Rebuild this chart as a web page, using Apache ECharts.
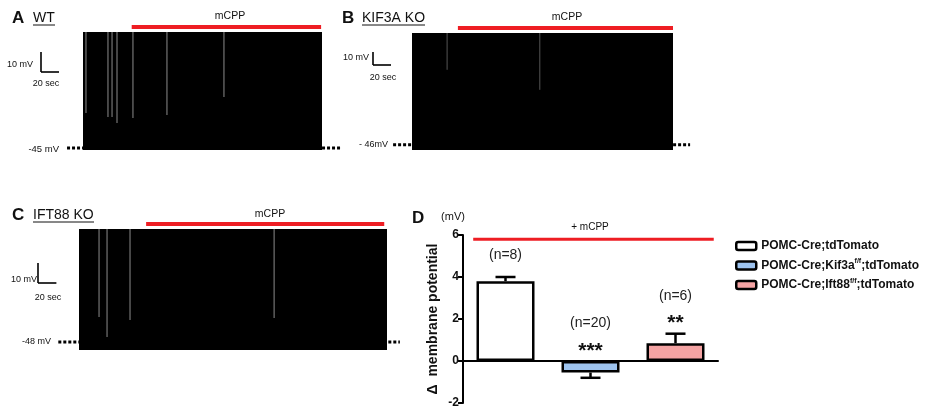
<!DOCTYPE html>
<html><head><meta charset="utf-8">
<script src="https://cdn.jsdelivr.net/npm/echarts@6/dist/echarts.min.js"></script>
<style>html,body{margin:0;padding:0;background:#fff}#c{width:935px;height:414px}</style>
</head><body><div id="c"></div>
<script>
// ---------------- DATA ----------------
// Panel A (WT) – envelope of the spiking recording
const traceA_time = [0, 265];          // s
const traceA_mV = [-46, 13];           // mV (bottom, top of spike envelope)
const baselineA = -45;                 // mV
const baselineA_span = [-17.7, 285];   // s
const mcppA = [54, 264];               // s, drug application
const grayA_t = [3.3, 27.7, 32.2, 37.7, 55.4, 93.1, 156.3];
const grayA_low = [-27.5, -29.5, -29.5, -32.5, -30, -28.5, -19.5];

// Panel B (KIF3A KO)
const traceB_time = [0, 290];
const traceB_mV = [-50, 40];
const baselineB = -46;
const baselineB_span = [-21, 309];
const mcppB = [51, 290];
const grayB_t = [39, 142];
const grayB_low = [11.7, -3.7];

// Panel C (IFT88 KO)
const traceC_time = [0, 335];
const traceC_mV = [-52, 8.5];
const baselineC = -48;
const baselineC_span = [-22.5, 349];
const mcppC = [73, 332];
const grayC_t = [21.8, 30.5, 55.5, 212.2];
const grayC_low = [-35.5, -45.5, -37, -36];

const scaleBar = [20, 10];             // 20 sec, 10 mV

// Panel D
const groups = ['POMC-Cre;tdTomato', 'POMC-Cre;Kif3a^f/f;tdTomato', 'POMC-Cre;Ift88^f/f;tdTomato'];
const meanD = [3.8, -0.55, 0.85];
const semD = [0.2, 0.25, 0.45];
const nD = [8, 20, 6];
const starsD = ['', '***', '**'];
const mcppLevelD = 5.8;
const mcppSpanD = [0.12, 2.95];        // in category units
const yRangeD = [-2, 6];

// ---------------- CHART ----------------
const RED = '#ee1d23';
const BAR_COLORS = ['#ffffff', '#9dc3ef', '#f4a3a3'];
const chart = echarts.init(document.getElementById('c'), null, {renderer: 'canvas'});

const traces = [
  {t: traceA_time, v: traceA_mV, base: baselineA, span: baselineA_span, mcpp: mcppA, gt: grayA_t, gl: grayA_low,
   grid: {left: 83, top: 32, width: 239, height: 118}, sb: [41, 72], gray: '#8c8c8c'},
  {t: traceB_time, v: traceB_mV, base: baselineB, span: baselineB_span, mcpp: mcppB, gt: grayB_t, gl: grayB_low,
   grid: {left: 412, top: 33, width: 261, height: 117}, sb: [373, 65], gray: '#555'},
  {t: traceC_time, v: traceC_mV, base: baselineC, span: baselineC_span, mcpp: mcppC, gt: grayC_t, gl: grayC_low,
   grid: {left: 79, top: 229, width: 308, height: 121}, sb: [38, 283], gray: '#8c8c8c'}
];

const grids = [], xAxes = [], yAxes = [], series = [];
traces.forEach((tr, i) => {
  grids.push(tr.grid);
  xAxes.push({type: 'value', gridIndex: i, min: tr.t[0], max: tr.t[1], show: false});
  yAxes.push({type: 'value', gridIndex: i, min: tr.v[0], max: tr.v[1], show: false});
  // dotted baseline
  series.push({type: 'custom', xAxisIndex: i, yAxisIndex: i, z: 1, silent: true,
    data: [[tr.span[0], tr.span[1], tr.base]],
    renderItem: (p, api) => {
      const a = api.coord([api.value(0), api.value(2)]);
      const b = api.coord([api.value(1), api.value(2)]);
      return {type: 'line', shape: {x1: a[0], y1: a[1], x2: b[0], y2: b[1]},
        style: {stroke: '#000', lineWidth: 3, lineDash: [3, 2]}};
    }});
  // trace envelope
  series.push({type: 'custom', xAxisIndex: i, yAxisIndex: i, z: 2, silent: true,
    data: [[tr.t[0], tr.t[1], tr.v[0], tr.v[1]]],
    renderItem: (p, api) => {
      const a = api.coord([api.value(0), api.value(3)]);
      const b = api.coord([api.value(1), api.value(2)]);
      return {type: 'rect', shape: {x: a[0], y: a[1], width: b[0] - a[0], height: b[1] - a[1]}, style: {fill: '#000'}};
    }});
  // gray gaps
  series.push({type: 'custom', xAxisIndex: i, yAxisIndex: i, z: 3, silent: true,
    data: tr.gt.map((t, k) => [t, tr.gl[k]]),
    renderItem: (p, api) => {
      const top = api.coord([api.value(0), tr.v[1]]);
      const bot = api.coord([api.value(0), api.value(1)]);
      return {type: 'line', shape: {x1: top[0], y1: top[1], x2: bot[0], y2: bot[1]}, style: {stroke: tr.gray, lineWidth: 1}};
    }});
  // mCPP bar
  series.push({type: 'custom', xAxisIndex: i, yAxisIndex: i, z: 3, silent: true,
    data: [[tr.mcpp[0], tr.mcpp[1]]],
    renderItem: (p, api) => {
      const a = api.coord([api.value(0), tr.v[1]]);
      const b = api.coord([api.value(1), tr.v[1]]);
      return {type: 'line', shape: {x1: a[0], y1: a[1] - 5, x2: b[0], y2: b[1] - 5}, style: {stroke: RED, lineWidth: 4}};
    }});
  // scale bar
  series.push({type: 'custom', xAxisIndex: i, yAxisIndex: i, z: 3, silent: true,
    data: [[scaleBar[0], scaleBar[1]]],
    renderItem: (p, api) => {
      const sz = api.size([api.value(0), api.value(1)]);
      const x = tr.sb[0], y = tr.sb[1];
      return {type: 'group', children: [
        {type: 'line', shape: {x1: x, y1: y - sz[1], x2: x, y2: y}, style: {stroke: '#000', lineWidth: 1.6}},
        {type: 'line', shape: {x1: x, y1: y, x2: x + sz[0], y2: y}, style: {stroke: '#000', lineWidth: 1.6}}
      ]};
    }});
});

// Panel D
grids.push({left: 463, top: 235, width: 255, height: 168});
xAxes.push({type: 'category', gridIndex: 3, data: groups, axisLine: {onZero: true, lineStyle: {color: '#000', width: 2}},
  axisTick: {show: false}, axisLabel: {show: false}});
xAxes.push({type: 'value', gridIndex: 3, min: 0, max: 3, show: false});
yAxes.push({type: 'value', gridIndex: 3, min: yRangeD[0], max: yRangeD[1], interval: 2,
  axisLine: {show: true, lineStyle: {color: '#000', width: 2}},
  axisTick: {show: true, length: 5, lineStyle: {width: 2, color: '#000'}},
  axisLabel: {color: '#111', fontWeight: 'bold', fontSize: 12, fontFamily: 'Liberation Sans, Arial', margin: 4},
  splitLine: {show: false},
  name: 'Δ  membrane potential', nameLocation: 'middle', nameGap: 23, nameRotate: 90,
  nameTextStyle: {color: '#111', fontWeight: 'bold', fontSize: 14, fontFamily: 'Liberation Sans, Arial'}});

groups.forEach((g, i) => {
  series.push({type: 'bar', name: g, xAxisIndex: 3, yAxisIndex: 3, barWidth: 58, barGap: '-100%', z: 2,
    data: groups.map((_, j) => j === i ? meanD[i] : '-'),
    itemStyle: {color: BAR_COLORS[i], borderColor: '#000', borderWidth: 2.5}});
});
// error bars (one-sided, outward)
series.push({type: 'custom', xAxisIndex: 3, yAxisIndex: 3, z: 1, silent: true,
  data: meanD.map((m, i) => [i, m, m + Math.sign(m) * semD[i]]),
  renderItem: (p, api) => {
    const a = api.coord([api.value(0), api.value(1)]);
    const b = api.coord([api.value(0), api.value(2)]);
    return {type: 'group', children: [
      {type: 'line', shape: {x1: a[0], y1: a[1], x2: b[0], y2: b[1]}, style: {stroke: '#000', lineWidth: 2.5}},
      {type: 'line', shape: {x1: b[0] - 10, y1: b[1], x2: b[0] + 10, y2: b[1]}, style: {stroke: '#000', lineWidth: 2.5}}
    ]};
  }});
// n labels and stars
series.push({type: 'custom', xAxisIndex: 3, yAxisIndex: 3, z: 3, silent: true,
  data: meanD.map((m, i) => [i, Math.max(m, 0) + (m > 0 ? semD[i] : 0)]),
  renderItem: (p, api) => {
    const i = p.dataIndex;
    const c = api.coord([api.value(0), api.value(1)]);
    const kids = [];
    const hasStar = starsD[i] !== '';
    const ny = hasStar ? c[1] - 38 : c[1] - 22;
    kids.push({type: 'text', x: c[0], y: ny, style: {text: '(n=' + nD[i] + ')', fill: '#222', fontSize: 14,
      fontFamily: 'Liberation Sans, Arial', align: 'center', verticalAlign: 'middle'}});
    if (hasStar) kids.push({type: 'text', x: c[0], y: c[1] - 10, style: {text: starsD[i], fill: '#111', fontSize: 21,
      fontWeight: 'bold', fontFamily: 'Liberation Sans, Arial', align: 'center', verticalAlign: 'middle'}});
    return {type: 'group', children: kids};
  }});
// + mCPP line
series.push({type: 'line', xAxisIndex: 4, yAxisIndex: 3, symbol: 'none', silent: true, z: 3,
  data: [[mcppSpanD[0], mcppLevelD], [mcppSpanD[1], mcppLevelD]],
  lineStyle: {color: RED, width: 3}});

function txt(text, x, y, size, opt) {
  opt = opt || {};
  return {type: 'text', x: x, y: y, z: 10, style: Object.assign({text: text, fill: '#111', fontSize: size,
    fontFamily: 'Liberation Sans, Arial', align: 'left', verticalAlign: 'middle'}, opt)};
}
function uline(x1, x2, y) {
  return {type: 'line', z: 10, shape: {x1: x1, y1: y, x2: x2, y2: y}, style: {stroke: '#111', lineWidth: 1}};
}
const graphics = [
  txt('A', 12, 18, 17, {fontWeight: 'bold'}), txt('WT', 33, 18, 14), uline(33, 55, 25),
  txt('mCPP', 230, 16, 10.5, {align: 'center'}),
  txt('10 mV', 33, 65, 9, {align: 'right'}), txt('20 sec', 46, 84, 9, {align: 'center'}),
  txt('-45 mV', 59, 149, 9.5, {align: 'right'}),

  txt('B', 342, 18, 17, {fontWeight: 'bold'}), txt('KIF3A KO', 362, 18, 14), uline(362, 425, 25),
  txt('mCPP', 567, 17, 10.5, {align: 'center'}),
  txt('10 mV', 369, 58, 9, {align: 'right'}), txt('20 sec', 383, 78, 9, {align: 'center'}),
  txt('- 46mV', 388, 145, 9, {align: 'right'}),

  txt('C', 12, 215, 17, {fontWeight: 'bold'}), txt('IFT88 KO', 33, 215, 14), uline(33, 94, 222),
  txt('mCPP', 270, 214, 10.5, {align: 'center'}),
  txt('10 mV', 37, 280, 9, {align: 'right'}), txt('20 sec', 48, 298, 9, {align: 'center'}),
  txt('-48 mV', 51, 342, 9, {align: 'right'}),

  txt('D', 412, 218, 17, {fontWeight: 'bold'}), txt('(mV)', 453, 217, 11, {align: 'center'}),
  txt('+ mCPP', 590, 227, 10, {align: 'center'})
];

chart.setOption({
  backgroundColor: '#fff',
  animation: false,
  grid: grids, xAxis: xAxes, yAxis: yAxes, series: series,
  graphic: graphics,
  legend: {
    orient: 'vertical', left: 735, top: 240, padding: 0, itemWidth: 20, itemHeight: 8, itemGap: 6, icon: 'roundRect',
    data: groups,
    itemStyle: {borderColor: '#000', borderWidth: 2.5},
    formatter: n => {
      const parts = n.split('^');
      if (parts.length === 1) return '{b|' + n + '}';
      const sup = parts[1].split(';')[0];
      return '{b|' + parts[0] + '}{s|' + sup + '}{b|' + parts[1].slice(sup.length) + '}';
    },
    textStyle: {
      fontFamily: 'Liberation Sans, Arial', fontWeight: 'bold', fontSize: 12, color: '#111',
      rich: {
        b: {fontFamily: 'Liberation Sans, Arial', fontWeight: 'bold', fontSize: 12, color: '#111'},
        s: {fontFamily: 'Liberation Sans, Arial', fontWeight: 'bold', fontSize: 7, color: '#111', padding: [0, 0, 8, 0]}
      }
    }
  }
});
</script>
</body></html>
